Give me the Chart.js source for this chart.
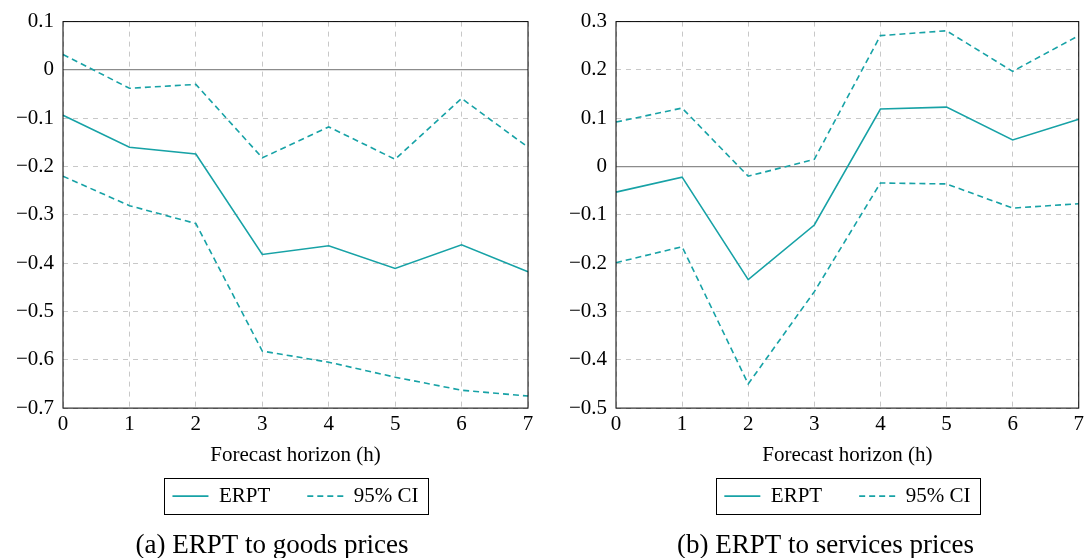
<!DOCTYPE html>
<html>
<head>
<meta charset="utf-8">
<script src="https://cdn.jsdelivr.net/npm/chart.js@4.4.1/dist/chart.umd.min.js"></script>
<style>
  html, body { margin: 0; padding: 0; background: #fff; overflow: hidden; }
  .panel { position: absolute; top: 0; width: 544px; height: 558px; }
</style>
</head>
<body>
<div class="panel" style="left:0"><canvas id="goodsChart"></canvas></div>
<div class="panel" style="left:544px"><canvas id="servicesChart"></canvas></div>
<script>
const horizons = [0, 1, 2, 3, 4, 5, 6, 7];

// (a) goods prices
const goodsErpt  = [-0.094, -0.160, -0.174, -0.382, -0.364, -0.411, -0.362, -0.418];
const goodsUpper = [0.032, -0.038, -0.030, -0.182, -0.118, -0.185, -0.059, -0.160];
const goodsLower = [-0.220, -0.281, -0.318, -0.582, -0.605, -0.636, -0.663, -0.675];
const goodsTicks = [-0.7, -0.6, -0.5, -0.4, -0.3, -0.2, -0.1, 0, 0.1];

// (b) services prices
const servicesErpt  = [-0.053, -0.022, -0.234, -0.121, 0.119, 0.123, 0.055, 0.098];
const servicesUpper = [0.092, 0.121, -0.020, 0.015, 0.271, 0.281, 0.197, 0.271];
const servicesLower = [-0.199, -0.166, -0.450, -0.259, -0.034, -0.036, -0.086, -0.077];
const servicesTicks = [-0.5, -0.4, -0.3, -0.2, -0.1, 0, 0.1, 0.2, 0.3];

const teal = "#17a2a6";
const serif = "'Liberation Serif', 'DejaVu Serif', serif";

// box around the plot area
const frame = {
    id: "frame",
    afterDatasetsDraw(chart) {
        const a = chart.chartArea;
        const ctx = chart.ctx;
        ctx.save();
        ctx.strokeStyle = "#000";
        ctx.lineWidth = 1;
        ctx.strokeRect(a.left, a.top, a.right - a.left, a.bottom - a.top);
        ctx.restore();
    },
};

// box around the legend entries
const legendBox = {
    id: "legendBox",
    afterDraw(chart) {
        const boxes = chart.legend.legendHitBoxes;
        if (!boxes || !boxes.length) return;
        const left = Math.min(...boxes.map(b => b.left)) - 8;
        const right = Math.max(...boxes.map(b => b.left + b.width)) + 10;
        const top = boxes[0].top - 8;
        const bottom = boxes[0].top + boxes[0].height + 7;
        const ctx = chart.ctx;
        ctx.save();
        ctx.strokeStyle = "#000";
        ctx.lineWidth = 1;
        ctx.strokeRect(Math.round(left) + 0.5, Math.round(top) + 0.5, Math.round(right - left), Math.round(bottom - top));
        ctx.restore();
    },
};

function fmtTick(value) {
    const r = Math.round(value * 10) / 10;
    if (r === 0) return "0";
    return (r < 0 ? "\u2212" : "") + Math.abs(r).toString();
}

const isZero = ctx => ctx.tick && Math.abs(ctx.tick.value) < 1e-9;

// legend samples drawn as lines, keeping each dataset's dash
function legendLabels(chart) {
    return Chart.defaults.plugins.legend.labels.generateLabels(chart).map(item => {
        const ds = chart.data.datasets[item.datasetIndex];
        return { ...item, lineDash: ds.borderDash || [], lineWidth: ds.borderWidth, strokeStyle: ds.borderColor };
    });
}

function makeConfig(erpt, upper, lower, yTicks, caption, padLeft, yWidth, padRight) {
    return {
        type: "line",
        data: {
            labels: horizons,
            datasets: [
                { label: "ERPT", data: erpt, borderColor: teal, backgroundColor: teal, borderWidth: 1.6, pointRadius: 0, tension: 0 },
                { label: "95% CI", data: upper, borderColor: teal, backgroundColor: teal, borderWidth: 1.6, borderDash: [6, 4], pointRadius: 0, tension: 0 },
                { label: "lower", data: lower, borderColor: teal, backgroundColor: teal, borderWidth: 1.6, borderDash: [6, 4], pointRadius: 0, tension: 0 },
            ],
        },
        options: {
            responsive: true,
            maintainAspectRatio: false,
            animation: false,
            layout: { padding: { top: 20, right: padRight, left: padLeft, bottom: 0 } },
            scales: {
                x: {
                    type: "category",
                    offset: false,
                    grid: { color: "#c8c8c8", lineWidth: 1, drawTicks: false },
                    border: { display: false, dash: [5, 5] },
                    ticks: { color: "#000", font: { family: serif, size: 21 }, padding: 4, maxRotation: 0 },
                    title: { display: true, text: "Forecast horizon (h)", color: "#000", font: { family: serif, size: 21 }, padding: { top: 0, bottom: -19 } },
                    afterFit(scale) { scale.height = 40.5; },
                },
                y: {
                    type: "linear",
                    min: yTicks[0],
                    max: yTicks[yTicks.length - 1],
                    afterBuildTicks(scale) { scale.ticks = yTicks.map(v => ({ value: v })); },
                    grid: {
                        drawTicks: false,
                        lineWidth: ctx => (isZero(ctx) ? 1.3 : 1),
                        color: ctx => (isZero(ctx) ? "#8c8c8c" : "#c8c8c8"),
                    },
                    border: { display: false, dash: ctx => (isZero(ctx) ? [] : [5, 5]) },
                    ticks: { color: "#000", font: { family: serif, size: 21 }, padding: 9, callback: fmtTick },
                    afterFit(scale) { scale.width = yWidth; },
                },
            },
            plugins: {
                legend: {
                    position: "bottom",
                    fullSize: false,
                    labels: {
                        color: "#000",
                        font: { family: serif, size: 21 },
                        usePointStyle: true,
                        pointStyle: "line",
                        pointStyleWidth: 36,
                        boxHeight: 10,
                        padding: 37,
                        generateLabels: legendLabels,
                        filter: item => item.datasetIndex !== 2,
                    },
                },
                title: {
                    display: true,
                    position: "bottom",
                    text: caption,
                    color: "#000",
                    font: { family: serif, size: 27, weight: "normal" },
                    padding: { top: 13, bottom: -4 },
                },
                tooltip: { enabled: false },
            },
        },
        plugins: [frame, legendBox],
    };
}

new Chart(document.getElementById("goodsChart"),
    makeConfig(goodsErpt, goodsUpper, goodsLower, goodsTicks, "(a) ERPT to goods prices", 16, 47, 16));
new Chart(document.getElementById("servicesChart"),
    makeConfig(servicesErpt, servicesUpper, servicesLower, servicesTicks, "(b) ERPT to services prices", 26, 46, 7));
</script>
</body>
</html>
